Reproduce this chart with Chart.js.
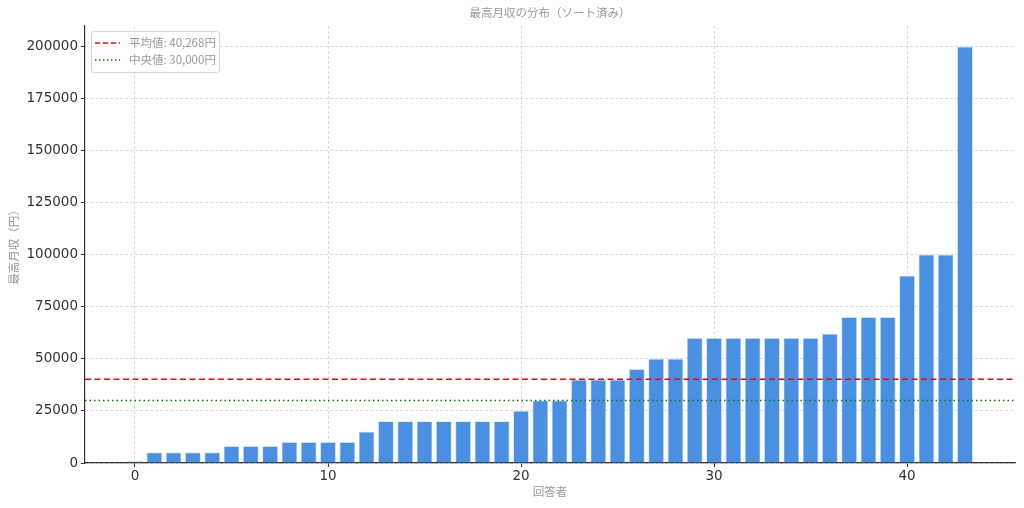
<!DOCTYPE html>
<html>
<head>
<meta charset="utf-8">
<script src="https://cdn.jsdelivr.net/npm/chart.js@4"></script>
<style>
  html, body { margin: 0; padding: 0; background: #fff; }
  #wrap { width: 1024px; height: 508px; }
</style>
</head>
<body>
<div id="wrap"><canvas id="c" width="1024" height="508"></canvas></div>
<script>
// sorted max monthly income per respondent (yen)
const respondents = [...Array(44).keys()];
const incomes = [
  800, 5000, 5000, 5000, 5000, 8000, 8000, 8000, 10000, 10000,
  10000, 10000, 15000, 20000, 20000, 20000, 20000, 20000, 20000, 20000,
  25000, 30000, 30000, 40000, 40000, 40000, 45000, 50000, 50000, 60000,
  60000, 60000, 60000, 60000, 60000, 60000, 62000, 70000, 70000, 70000,
  90000, 100000, 100000, 200000
];
const refLabels = ["平均値: 40,268円", "中央値: 30,000円"];
const refValues = [40268, 30000];
const xTicks = [0, 10, 20, 30, 40];
const yTicks = [0, 25000, 50000, 75000, 100000, 125000, 150000, 175000, 200000];

const X_MIN = -2.59, X_MAX = 45.59;
const jp = '"Noto Sans CJK JP", "Noto Sans", sans-serif';
const num = '"DejaVu Sans", sans-serif';

// title + legend box drawn inside the plot like matplotlib
const overlay = {
  id: "overlay",
  afterDraw(chart) {
    const ctx = chart.ctx;
    const a = chart.chartArea;
    ctx.save();
    ctx.fillStyle = "#999";
    ctx.font = "11.5px " + jp;
    ctx.textAlign = "center";
    ctx.textBaseline = "middle";
    ctx.fillText("最高月収の分布（ソート済み）", (a.left + a.right) / 2, 13);

    const bx = a.left + 6, by = a.top + 5, bw = 128, bh = 41;
    ctx.fillStyle = "rgba(255,255,255,0.85)";
    ctx.strokeStyle = "#d6d6d6";
    ctx.lineWidth = 1;
    ctx.beginPath();
    ctx.roundRect(bx + 0.5, by + 0.5, bw, bh, 3);
    ctx.fill();
    ctx.stroke();

    const styles = [
      { color: "#ff0000", dash: [5, 3] },
      { color: "#008000", dash: [1.5, 2.5] }
    ];
    ctx.textAlign = "left";
    ctx.font = "11.5px " + jp;
    refLabels.forEach((t, i) => {
      const y = by + 12 + i * 17;
      ctx.strokeStyle = styles[i].color;
      ctx.lineWidth = 1.5;
      ctx.setLineDash(styles[i].dash);
      ctx.beginPath();
      ctx.moveTo(bx + 4, y);
      ctx.lineTo(bx + 29, y);
      ctx.stroke();
      ctx.setLineDash([]);
      ctx.fillStyle = "#999";
      ctx.fillText(t, bx + 38, y);
    });
    ctx.restore();
  }
};

const gridOpts = {
  offset: false,
  color: "#d0d0d0", lineWidth: 0.8, tickLength: 4,
  tickColor: "#333", tickWidth: 1, tickBorderDash: []
};

new Chart(document.getElementById("c"), {
  type: "bar",
  data: {
    datasets: [
      {
        type: "line",
        data: [{ x: X_MIN, y: refValues[0] }, { x: X_MAX, y: refValues[0] }],
        borderColor: "#ff0000",
        borderWidth: 1.5,
        borderDash: [6, 3.5],
        pointRadius: 0,
        order: 0
      },
      {
        type: "line",
        data: [{ x: X_MIN, y: refValues[1] }, { x: X_MAX, y: refValues[1] }],
        borderColor: "#008000",
        borderWidth: 1.5,
        borderDash: [1.5, 3],
        pointRadius: 0,
        order: 1
      },
      {
        data: respondents.map((r, i) => ({ x: r, y: incomes[i] })),
        backgroundColor: "#4a90e2",
        borderColor: "#a8c8f0",
        borderWidth: 0.7,
        barPercentage: 0.8,
        categoryPercentage: 1.0,
        order: 2
      }
    ]
  },
  options: {
    responsive: false,
    animation: false,
    layout: { padding: { top: 26, right: 9, left: 0, bottom: 0 } },
    plugins: { legend: { display: false }, tooltip: { enabled: false }, title: { display: false } },
    scales: {
      x: {
        type: "linear",
        offset: false,
        min: X_MIN,
        max: X_MAX,
        afterBuildTicks(scale) { scale.ticks = xTicks.map(v => ({ value: v })); },
        afterFit(scale) { scale.height = 45; },
        ticks: { color: "#333", font: { family: num, size: 13.5 }, padding: 1, maxRotation: 0, autoSkip: false },
        grid: gridOpts,
        border: { color: "#333", width: 1.2, dash: [3, 2] },
        title: { display: true, text: "回答者", color: "#999", font: { family: jp, size: 11.5 }, padding: { top: 0, bottom: 9 } }
      },
      y: {
        min: 0,
        max: 210000,
        afterBuildTicks(scale) { scale.ticks = yTicks.map(v => ({ value: v })); },
        afterFit(scale) { scale.width = 85; },
        ticks: { color: "#333", font: { family: num, size: 13.5 }, padding: 3, autoSkip: false, callback: v => String(v) },
        grid: gridOpts,
        border: { color: "#333", width: 1.2, dash: [3, 2] },
        title: { display: true, text: "最高月収（円）", color: "#999", font: { family: jp, size: 11.5 }, padding: { top: 7, bottom: 0 } }
      }
    }
  },
  plugins: [overlay]
});
</script>
</body>
</html>
